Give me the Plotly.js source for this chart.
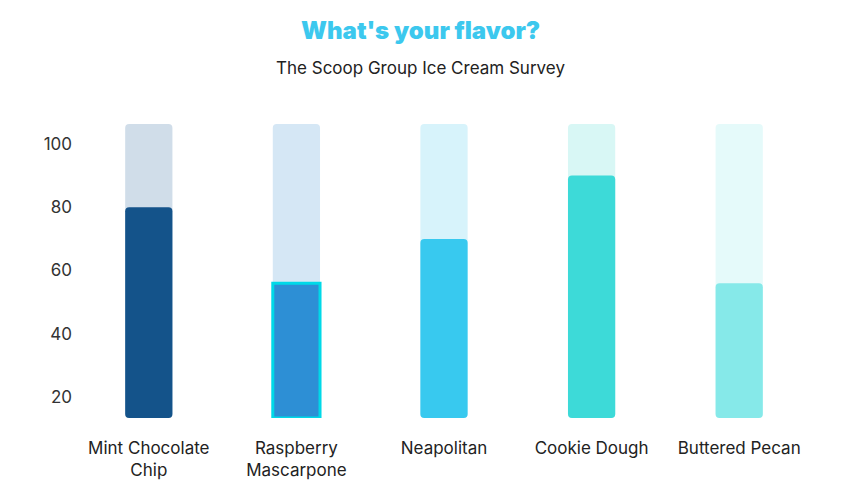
<!DOCTYPE html>
<html><head><meta charset="utf-8">
<script src="https://cdn.plot.ly/plotly-3.0.1.min.js"></script>
<style>html,body{margin:0;padding:0;background:#fff}#chart{width:855px;height:496px}</style>
</head><body><div id="chart"></div>
<script>
const categories = ["Mint Chocolate<br>Chip", "Raspberry<br>Mascarpone", "Neapolitan", "Cookie Dough", "Buttered Pecan"];
const values = [80, 56, 70, 90, 56];
const maxValue = [106.3, 106.3, 106.3, 106.3, 106.3];
const floorValue = 13.4;
const yTicks = [20, 40, 60, 80, 100];
const fgColors = ["#14538a", "#2d8fd5", "#38c9ef", "#3ddad8", "#86e9e9"];
const bgColors = ["#d0dde9", "#d5e7f5", "#d7f3fb", "#d8f7f5", "#e5fafa"];
const highlighted = [false, true, false, false, false];

const W = 0.32;
const floors = categories.map(() => floorValue);
const traces = [
  {type: 'bar', x: categories, y: maxValue.map(v => v - floorValue), base: floors, width: W,
   marker: {color: bgColors, cornerradius: 4, line: {width: 0}}, hoverinfo: 'skip', showlegend: false},
  {type: 'bar', x: categories, y: values.map(v => v - floorValue), base: floors, width: W,
   marker: {color: fgColors, cornerradius: 4, line: {width: 0}}, hoverinfo: 'skip', showlegend: false},
  {type: 'bar', x: categories, y: values.map((v, i) => highlighted[i] ? v - floorValue : null), base: floors, width: W,
   marker: {color: fgColors, line: {color: '#00d9e8', width: 3}}, hoverinfo: 'skip', showlegend: false}
];
const layout = {
  width: 855, height: 496,
  margin: {l: 75, r: 42, t: 124, b: 78},
  barmode: 'overlay',
  paper_bgcolor: '#fff', plot_bgcolor: '#fff',
  font: {family: 'Inter, sans-serif', color: '#333'},
  title: {text: "What's your flavor?", x: 0.492, xanchor: 'center', y: 0.9375, yanchor: 'middle', yref: 'container',
    font: {family: 'Inter, sans-serif', size: 24, weight: 900, color: '#3cc8ee'}},
  annotations: [{text: 'The Scoop Group Ice Cream Survey', xref: 'paper', yref: 'paper', x: 0.468, y: 1 + (124 - 68) / 294,
    xanchor: 'center', yanchor: 'middle', showarrow: false, font: {family: 'Inter, sans-serif', size: 17, color: '#222'}}],
  xaxis: {type: 'category', showgrid: false, zeroline: false, showline: false, ticks: '',
    ticklabelstandoff: 18, tickfont: {family: 'Inter, sans-serif', size: 17, color: '#222'}},
  yaxis: {range: [floorValue, 106.3], tickvals: yTicks, showgrid: false, zeroline: false, showline: false, ticks: '',
    ticklabelstandoff: 2, tickfont: {family: 'Inter, sans-serif', size: 17, color: '#333'}}
};
Plotly.newPlot('chart', traces, layout, {displayModeBar: false, staticPlot: true});
</script></body></html>
